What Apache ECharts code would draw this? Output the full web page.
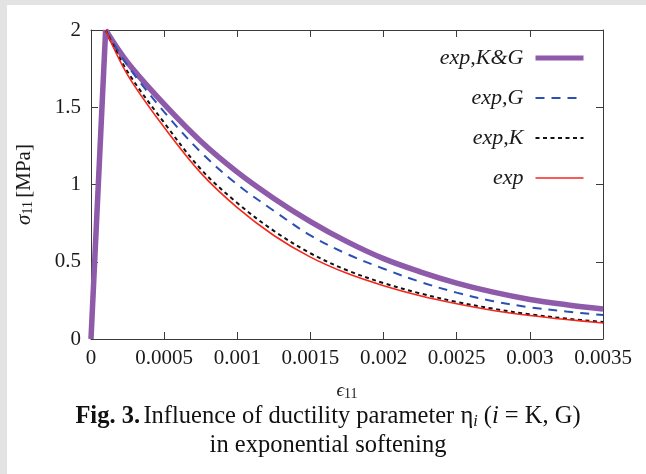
<!DOCTYPE html>
<html>
<head>
<meta charset="utf-8">
<script src="https://cdn.jsdelivr.net/npm/echarts@6/dist/echarts.min.js"></script>
<style>
html,body{margin:0;padding:0;background:#ffffff;}
#chart{width:646px;height:474px;}
</style>
</head>
<body>
<div id="chart"></div>
<script>
// ---- data ----
const riseStrain = [0, 0.0001];
const riseStress = [0, 2];
const strain = [0.0001, 0.00025, 0.0005, 0.00075, 0.001, 0.00125, 0.0015, 0.00175, 0.002, 0.00225, 0.0025, 0.00275, 0.003, 0.00325, 0.0035];
const expKG = [2, 1.79, 1.52, 1.28, 1.08, 0.91, 0.76, 0.63, 0.52, 0.435, 0.362, 0.303, 0.256, 0.222, 0.194];
const expG  = [2, 1.77, 1.47, 1.21, 1.00, 0.83, 0.67, 0.55, 0.455, 0.37, 0.30, 0.245, 0.205, 0.178, 0.155];
const expK  = [2, 1.73, 1.40, 1.10, 0.88, 0.70, 0.555, 0.445, 0.362, 0.295, 0.24, 0.196, 0.16, 0.132, 0.11];
const expP  = [2, 1.71, 1.37, 1.075, 0.85, 0.67, 0.53, 0.425, 0.345, 0.28, 0.228, 0.185, 0.152, 0.126, 0.104];
const seriesNames = ['exp,K&G', 'exp,G', 'exp,K', 'exp'];
const xTicks = ['0', '0.0005', '0.001', '0.0015', '0.002', '0.0025', '0.003', '0.0035'];
const yTicks = ['0', '0.5', '1', '1.5', '2'];

const pairs = (xs, ys) => xs.map((x, i) => [x, ys[i]]);
const FONT = '"Liberation Serif", "DejaVu Serif", serif';
const AX = '#3a3a3a';
const colors = ['#8e5aaa', '#2b4fb4', '#111111', '#f4271c'];
const widths = [5.5, 2, 2, 1.6];
const legendWidths = [5, 2, 2, 1.6];
const dashes = ['solid', [9, 7], [4, 3.5], 'solid'];

const chart = echarts.init(document.getElementById('chart'), null, {renderer: 'canvas'});

const xLabel = v => {
  const idx = Math.round(v / 0.0005);
  return xTicks[idx] !== undefined ? xTicks[idx] : '';
};
const yLabel = v => {
  const idx = Math.round(v / 0.5);
  return yTicks[idx] !== undefined ? yTicks[idx] : '';
};

const baseX = {
  type: 'value', min: 0, max: 0.0035, interval: 0.0005,
  axisLine: {show: true, onZero: false, lineStyle: {color: AX, width: 1}},
  axisTick: {show: true, inside: true, length: 7, lineStyle: {color: AX}},
  splitLine: {show: false}
};
const baseY = {
  type: 'value', min: 0, max: 2, interval: 0.5,
  axisLine: {show: true, onZero: false, lineStyle: {color: AX, width: 1}},
  axisTick: {show: true, inside: true, length: 7, lineStyle: {color: AX}},
  splitLine: {show: false}
};

const decay = [expKG, expG, expK, expP];
const series = decay.map((ys, i) => ({
  name: seriesNames[i],
  type: 'line',
  data: pairs(strain, ys),
  smooth: 0.35,
  symbol: 'none',
  xAxisIndex: 0, yAxisIndex: 0,
  lineStyle: {color: colors[i], width: widths[i], type: dashes[i], cap: 'butt'},
  itemStyle: {color: colors[i]},
  z: 2 + i,
  animation: false
}));
series.unshift({
  name: seriesNames[0],
  type: 'line',
  data: pairs(riseStrain, riseStress),
  smooth: false,
  symbol: 'none',
  xAxisIndex: 0, yAxisIndex: 0,
  lineStyle: {color: colors[0], width: widths[0], type: 'solid'},
  itemStyle: {color: colors[0]},
  z: 2,
  animation: false
});

chart.setOption({
  animation: false,
  backgroundColor: '#ffffff',
  grid: {left: 91, right: 43, top: 30, bottom: 135, containLabel: false},
  xAxis: [
    Object.assign({}, baseX, {
      position: 'bottom',
      axisLabel: {show: true, formatter: xLabel, color: '#1a1a1a', fontFamily: FONT, fontSize: 21, margin: 9},
      name: '{e|ϵ}{s|11}',
      nameLocation: 'middle',
      nameGap: 42,
      nameTextStyle: {
        rich: {
          e: {fontFamily: FONT, fontSize: 19, color: '#1a1a1a', fontStyle: 'italic'},
          s: {fontFamily: FONT, fontSize: 14, color: '#1a1a1a', verticalAlign: 'bottom', padding: [6, 0, 0, 0]}
        }
      }
    }),
    Object.assign({}, baseX, {position: 'top', axisLabel: {show: false}})
  ],
  yAxis: [
    Object.assign({}, baseY, {
      position: 'left',
      axisLabel: {show: true, formatter: yLabel, color: '#1a1a1a', fontFamily: FONT, fontSize: 21, margin: 10},
      name: '{g|σ}{s|11} {t|[MPa]}',
      nameLocation: 'middle',
      nameGap: 56,
      nameRotate: 90,
      nameTextStyle: {
        rich: {
          g: {fontFamily: FONT, fontSize: 21, color: '#1a1a1a', fontStyle: 'italic'},
          s: {fontFamily: FONT, fontSize: 14, color: '#1a1a1a', verticalAlign: 'bottom', padding: [8, 0, 0, 0]},
          t: {fontFamily: FONT, fontSize: 21, color: '#1a1a1a'}
        }
      }
    }),
    Object.assign({}, baseY, {position: 'right', axisLabel: {show: false}})
  ],
  legend: {
    orient: 'vertical',
    right: 55,
    top: 42,
    align: 'right',
    itemWidth: 48,
    itemHeight: 14,
    itemGap: 18,
    selectedMode: false,
    textStyle: {fontFamily: FONT, fontSize: 22, fontStyle: 'italic', color: '#1a1a1a', padding: [0, 7, 0, 0]},
    data: seriesNames.map((n, i) => ({
      name: n,
      itemStyle: {opacity: 0, color: 'rgba(0,0,0,0)', borderWidth: 0},
      lineStyle: {width: legendWidths[i], type: dashes[i], color: colors[i], opacity: 1}
    }))
  },
  graphic: [
    {type: 'rect', left: 0, top: 0, shape: {width: 646, height: 5}, style: {fill: '#e3e3e3'}, z: -10, silent: true},
    {type: 'rect', left: 0, top: 0, shape: {width: 7, height: 474}, style: {fill: '#e3e3e3'}, z: -10, silent: true},
    {
      type: 'text', x: 328, y: 417, z: 10,
      style: {
        text: '{b|Fig. 3.} {r|Influence of ductility parameter η}{sub|i}{r| (}{it|i}{r| = K, G)}',
        align: 'center', verticalAlign: 'middle',
        rich: {
          b: {fontFamily: FONT, fontSize: 24.5, fontWeight: 'bold', fill: '#111'},
          r: {fontFamily: FONT, fontSize: 24.5, fill: '#111'},
          it: {fontFamily: FONT, fontSize: 24.5, fontStyle: 'italic', fill: '#111'},
          sub: {fontFamily: FONT, fontSize: 16, fontStyle: 'italic', fill: '#111', verticalAlign: 'bottom', padding: [9, 0, 0, 0]}
        }
      }
    },
    {
      type: 'text', x: 328, y: 446, z: 10,
      style: {text: 'in exponential softening', align: 'center', verticalAlign: 'middle', fontFamily: FONT, fontSize: 24.5, fill: '#111'}
    }
  ],
  series: series
});
</script>
</body>
</html>
